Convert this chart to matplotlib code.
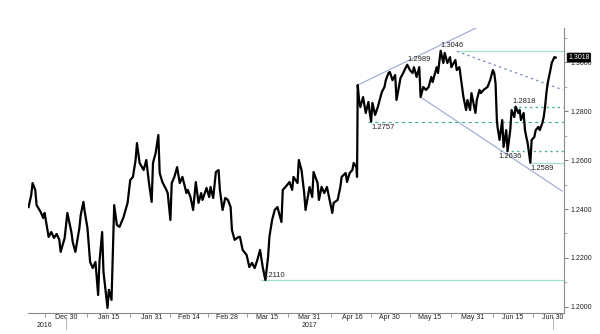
import numpy as np
import pandas as pd
import matplotlib
matplotlib.use("Agg")
import matplotlib.pyplot as plt
import matplotlib.transforms as mtransforms

# ---- data: GBP/USD ----
dec_days = [16, 17, 17.5, 18.5, 19, 20.5, 21.5, 22, 23.5, 24.5, 25.5, 26.5, 27.5, 28, 29.5, 30, 30.5]
dec_vals = [1.2408, 1.2457, 1.2506, 1.2478, 1.2416, 1.2388, 1.2363, 1.2384, 1.2286, 1.2306, 1.2282,
            1.2298, 1.2274, 1.2225, 1.2282, 1.2335, 1.2384]
jan_days = [1, 1.5, 2.5, 4, 4.5, 5.5, 6, 7, 8, 9, 10, 11, 11.5, 12.5, 13, 14.5, 15, 16, 17, 18, 19,
            20.5, 22, 23, 24, 25, 25.5, 26.5, 28, 29, 30, 31, 31.5]
jan_vals = [1.2306, 1.2265, 1.2225, 1.2323, 1.2376, 1.2429, 1.2388, 1.2323, 1.2184, 1.2159, 1.2184,
            1.2049, 1.2184, 1.2306, 1.2143, 1.1996, 1.2070, 1.2029, 1.2416, 1.2335, 1.2327, 1.2367,
            1.2425, 1.2518, 1.2531, 1.2600, 1.2669, 1.2588, 1.2559, 1.2600, 1.2506, 1.2429, 1.2588]
feb_days = [1.5, 2.5, 3, 4, 5.5, 6, 7, 7.5, 8.5, 9.5, 10.5, 11.5, 13, 13.5, 14.5, 15.5, 16.5, 17.5,
            18.5, 19, 20.5, 21.5, 22, 23, 24, 25, 25.5, 26.5, 27.5, 28.5]
feb_vals = [1.2629, 1.2702, 1.2547, 1.2510, 1.2478, 1.2465, 1.2355, 1.2506, 1.2531, 1.2571, 1.2506,
            1.2531, 1.2465, 1.2478, 1.2449, 1.2396, 1.2510, 1.2425, 1.2465, 1.2437, 1.2486, 1.2449,
            1.2490, 1.2445, 1.2551, 1.2559, 1.2478, 1.2396, 1.2445, 1.2437]
mar_days = [1.5, 2, 3, 4.5, 5, 6, 7.5, 8.5, 9.5, 10.5, 11.5, 12.5, 13.5, 14.5, 15.5, 16, 17, 18, 19,
            20.5, 21, 22, 23.5, 24.5, 25, 26.5, 27, 28, 29, 29.5, 31]
mar_vals = [1.2408, 1.2314, 1.2274, 1.2286, 1.2286, 1.2233, 1.2212, 1.2163, 1.2180, 1.2159, 1.2192,
            1.2233, 1.2163, 1.2110, 1.2204, 1.2286, 1.2355, 1.2396, 1.2408, 1.2347, 1.2478, 1.2490,
            1.2510, 1.2478, 1.2531, 1.2506, 1.2600, 1.2559, 1.2465, 1.2396, 1.2490]
apr_days = [1, 1.5, 3, 3.5, 4.5, 5.5, 6.5, 7.5, 8.5, 9, 10.5, 11.5, 12, 13.5, 14, 15, 16, 16.5, 17.5,
            17.75, 18, 18.5, 19, 20, 21, 22, 22.5, 23, 23.5, 24.5, 25.5, 26.5, 27, 28, 28.5, 29.5, 30]
apr_vals = [1.2449, 1.2551, 1.2506, 1.2437, 1.2490, 1.2465, 1.2490, 1.2437, 1.2384, 1.2425, 1.2437,
            1.2490, 1.2531, 1.2547, 1.2510, 1.2547, 1.2559, 1.2588, 1.2571, 1.2531, 1.2906, 1.2845,
            1.2816, 1.2857, 1.2792, 1.2837, 1.2792, 1.2757, 1.2833, 1.2784, 1.2816, 1.2857, 1.2877,
            1.2898, 1.2926, 1.2955, 1.2959]
may_days = [1, 2, 2.5, 4, 5, 5.5, 6.5, 7.5, 8.5, 9, 10, 11, 11.5, 12.5, 13.5, 14.5, 15.5, 16, 17.5,
            18, 19, 20, 20.5, 21.5, 22.5, 23, 24.5, 25, 26, 27, 27.5, 28.5, 29, 30, 30.5]
may_vals = [1.2926, 1.2947, 1.2845, 1.2935, 1.2955, 1.2967, 1.2989, 1.2967, 1.2955, 1.2979, 1.2939,
            1.2979, 1.2857, 1.2898, 1.2886, 1.2898, 1.2939, 1.2918, 1.2979, 1.2955, 1.3046, 1.2996,
            1.3037, 1.2996, 1.3020, 1.2979, 1.3008, 1.2967, 1.2979, 1.2898, 1.2857, 1.2804, 1.2845,
            1.2804, 1.2873]
jun_days = [1, 1.5, 2.5, 3, 4, 5.5, 6.5, 7.5, 8, 8.5, 9, 9.25, 10, 11, 11.5, 12.5, 13, 14, 14.5, 15.5,
            16, 17, 17.5, 18, 19, 19.5, 20, 20.5, 21, 21.5, 22, 23, 23.5, 24.5, 25, 26, 26.5, 27, 27.5,
            28, 29, 29.5, 30.5, 31]
jun_vals = [1.2792, 1.2845, 1.2886, 1.2873, 1.2886, 1.2898, 1.2926, 1.2967, 1.2955, 1.2914, 1.2763,
            1.2735, 1.2682, 1.2763, 1.2653, 1.2722, 1.2636, 1.2722, 1.2804, 1.2775, 1.2818, 1.2792,
            1.2804, 1.2763, 1.2792, 1.2722, 1.2694, 1.2669, 1.2629, 1.2589, 1.2682, 1.2694, 1.2722,
            1.2735, 1.2722, 1.2751, 1.2775, 1.2816, 1.2873, 1.2914, 1.2967, 1.2996, 1.3020, 1.3018]

month_starts = [(2016, 12), (2017, 1), (2017, 2), (2017, 3), (2017, 4), (2017, 5), (2017, 6)]
all_days = [dec_days, jan_days, feb_days, mar_days, apr_days, may_days, jun_days]
all_vals = [dec_vals, jan_vals, feb_vals, mar_vals, apr_vals, may_vals, jun_vals]

times, values = [], []
for (yr, mo), dd, vv in zip(month_starts, all_days, all_vals):
    assert len(dd) == len(vv)
    base = pd.Timestamp(yr, mo, 1)
    times += [base + pd.Timedelta(days=d - 1) for d in dd]
    values += vv

# tick labels
xtick_dates = ["2016-12-30", "2017-01-15", "2017-01-31", "2017-02-14", "2017-02-28", "2017-03-15",
               "2017-03-31", "2017-04-16", "2017-04-30", "2017-05-15", "2017-05-31", "2017-06-15",
               "2017-06-30"]
xtick_labels = ["Dec 30", "Jan 15", "Jan 31", "Feb 14", "Feb 28", "Mar 15", "Mar 31", "Apr 16",
                "Apr 30", "May 15", "May 31", "Jun 15", "Jun 30"]
ytick_vals = [1.20, 1.22, 1.24, 1.26, 1.28, 1.30]
last_value = 1.3018

# annotated levels
level_vals = [1.3046, 1.2757, 1.2818, 1.2636, 1.2589, 1.2110]
level_start = ["2017-05-26", "2017-04-22", "2017-06-15", "2017-06-10", "2017-06-21 12:00", "2017-03-13"]
level_kind = ["solid", "dashed", "dotted", "dotted", "solid", "solid"]
label_text = ["1.3046", "1.2989", "1.2757", "1.2818", "1.2636", "1.2589", "1.2110"]
label_date = ["2017-05-19", "2017-05-06 12:00", "2017-04-23", "2017-06-15", "2017-06-09 18:00",
              "2017-06-21 12:00", "2017-03-13 12:00"]
label_val = [1.3046, 1.2989, 1.2757, 1.2818, 1.2636, 1.2589, 1.2110]
label_va = ["bottom", "bottom", "top", "bottom", "top", "top", "bottom"]

# trend lines
upper_x = ["2017-04-18 00:00", "2017-06-02 00:00"]; upper_y = [1.2906, 1.3143]
lower_x = ["2017-05-12 00:00", "2017-07-03 10:00"]; lower_y = [1.2853, 1.2473]
dot_x = ["2017-05-25 00:00", "2017-07-03 16:00"]; dot_y = [1.3044, 1.2886]


def ts(lst):
    return [pd.Timestamp(s) for s in lst]


# ---- drawing ----
FONT = ["Liberation Sans Narrow", "Liberation Sans", "DejaVu Sans"]
plt.rcParams["font.family"] = FONT

fig = plt.figure(figsize=(6.0, 3.34), dpi=100)
ax = fig.add_axes([28 / 600, 1 - 313 / 334, (564 - 28) / 600, (313 - 28) / 334])

xmin = pd.Timestamp("2016-12-15 19:00")
xmax = pd.Timestamp("2017-07-04 02:00")
ax.set_xlim(xmin, xmax)
ax.set_ylim(1.19755, 1.31388)

mint = "#9fe3c4"
green = "#3fb27f"
trend = "#9aa8cf"

for v, s, k in zip(level_vals, level_start, level_kind):
    if k == "solid":
        ax.plot([pd.Timestamp(s), xmax], [v, v], color=mint, lw=0.9, zorder=1)
    elif k == "dashed":
        ax.plot([pd.Timestamp(s), xmax], [v, v], color=green, lw=0.8, dashes=(3, 3), zorder=1)
    else:
        ax.plot([pd.Timestamp(s), xmax], [v, v], color=green, lw=1.0, dashes=(1.5, 2.5), zorder=1)

ax.plot(ts(upper_x), upper_y, color=trend, lw=0.8, zorder=1)
ax.plot(ts(lower_x), lower_y, color=trend, lw=0.8, zorder=1)
ax.plot(ts(dot_x), dot_y, color="#7d8fc0", lw=0.9, dashes=(2, 2.5), zorder=1)

ax.plot(times, values, color="black", lw=1.6, zorder=3)

for t, d, v, va in zip(label_text, label_date, label_val, label_va):
    off = 1 if va == "bottom" else -1.5
    ax.annotate(t, xy=(pd.Timestamp(d), v), xytext=(0, off), textcoords="offset points",
                ha="left", va=va, fontsize=5.5, color="#222222", zorder=4)

# spines
for sp in ["left", "top"]:
    ax.spines[sp].set_visible(False)
for sp in ["right", "bottom"]:
    ax.spines[sp].set_color("#8a8a8a")
    ax.spines[sp].set_linewidth(0.8)

# y axis right
ax.yaxis.tick_right()
ax.set_yticks(ytick_vals)
ax.set_yticklabels([f"{v:.4f}" for v in ytick_vals])
ax.set_yticks([1.21, 1.23, 1.25, 1.27, 1.29, 1.31], minor=True)
ax.tick_params(axis="y", which="major", length=3, width=0.6, color="#666666", pad=1.5,
               labelsize=5, labelcolor="#222222")
ax.tick_params(axis="y", which="minor", length=2, width=0.5, color="#888888")

# x axis
xt = ts(xtick_dates)
ax.set_xticks(xt)
ax.set_xticklabels(xtick_labels)
mids = [xt[0] - (xt[1] - xt[0]) / 2] + [xt[i] + (xt[i + 1] - xt[i]) / 2 for i in range(len(xt) - 1)]
ax.set_xticks(mids, minor=True)
ax.tick_params(axis="x", which="major", length=0, pad=1, labelsize=5, labelcolor="#222222")
ax.tick_params(axis="x", which="minor", length=3, width=0.6, color="#888888")

# year labels and separators
trans = mtransforms.blended_transform_factory(ax.transData, ax.transAxes)
ax.text(pd.Timestamp("2016-12-22"), -0.045, "2016", transform=trans, ha="center", va="center",
        fontsize=5, color="#222222")
ax.text(pd.Timestamp("2017-03-31"), -0.045, "2017", transform=trans, ha="center", va="center",
        fontsize=5, color="#222222")
for d in ["2016-12-30", "2017-06-30"]:
    ax.plot([pd.Timestamp(d)] * 2, [-0.015, -0.055], transform=trans, color="#aaaaaa", lw=0.6,
            clip_on=False)

# last value box (sits over the 1.3000 tick label, as in the reference)
ax.annotate(f"{last_value:.4f}", xy=(1.0, last_value), xycoords=("axes fraction", "data"),
            xytext=(3, 0), textcoords="offset points", ha="left", va="center", fontsize=5,
            color="white", annotation_clip=False, zorder=10,
            bbox=dict(boxstyle="round,pad=0.15", fc="black", ec="black", lw=0.5))

fig.savefig("out.png", dpi=100)
